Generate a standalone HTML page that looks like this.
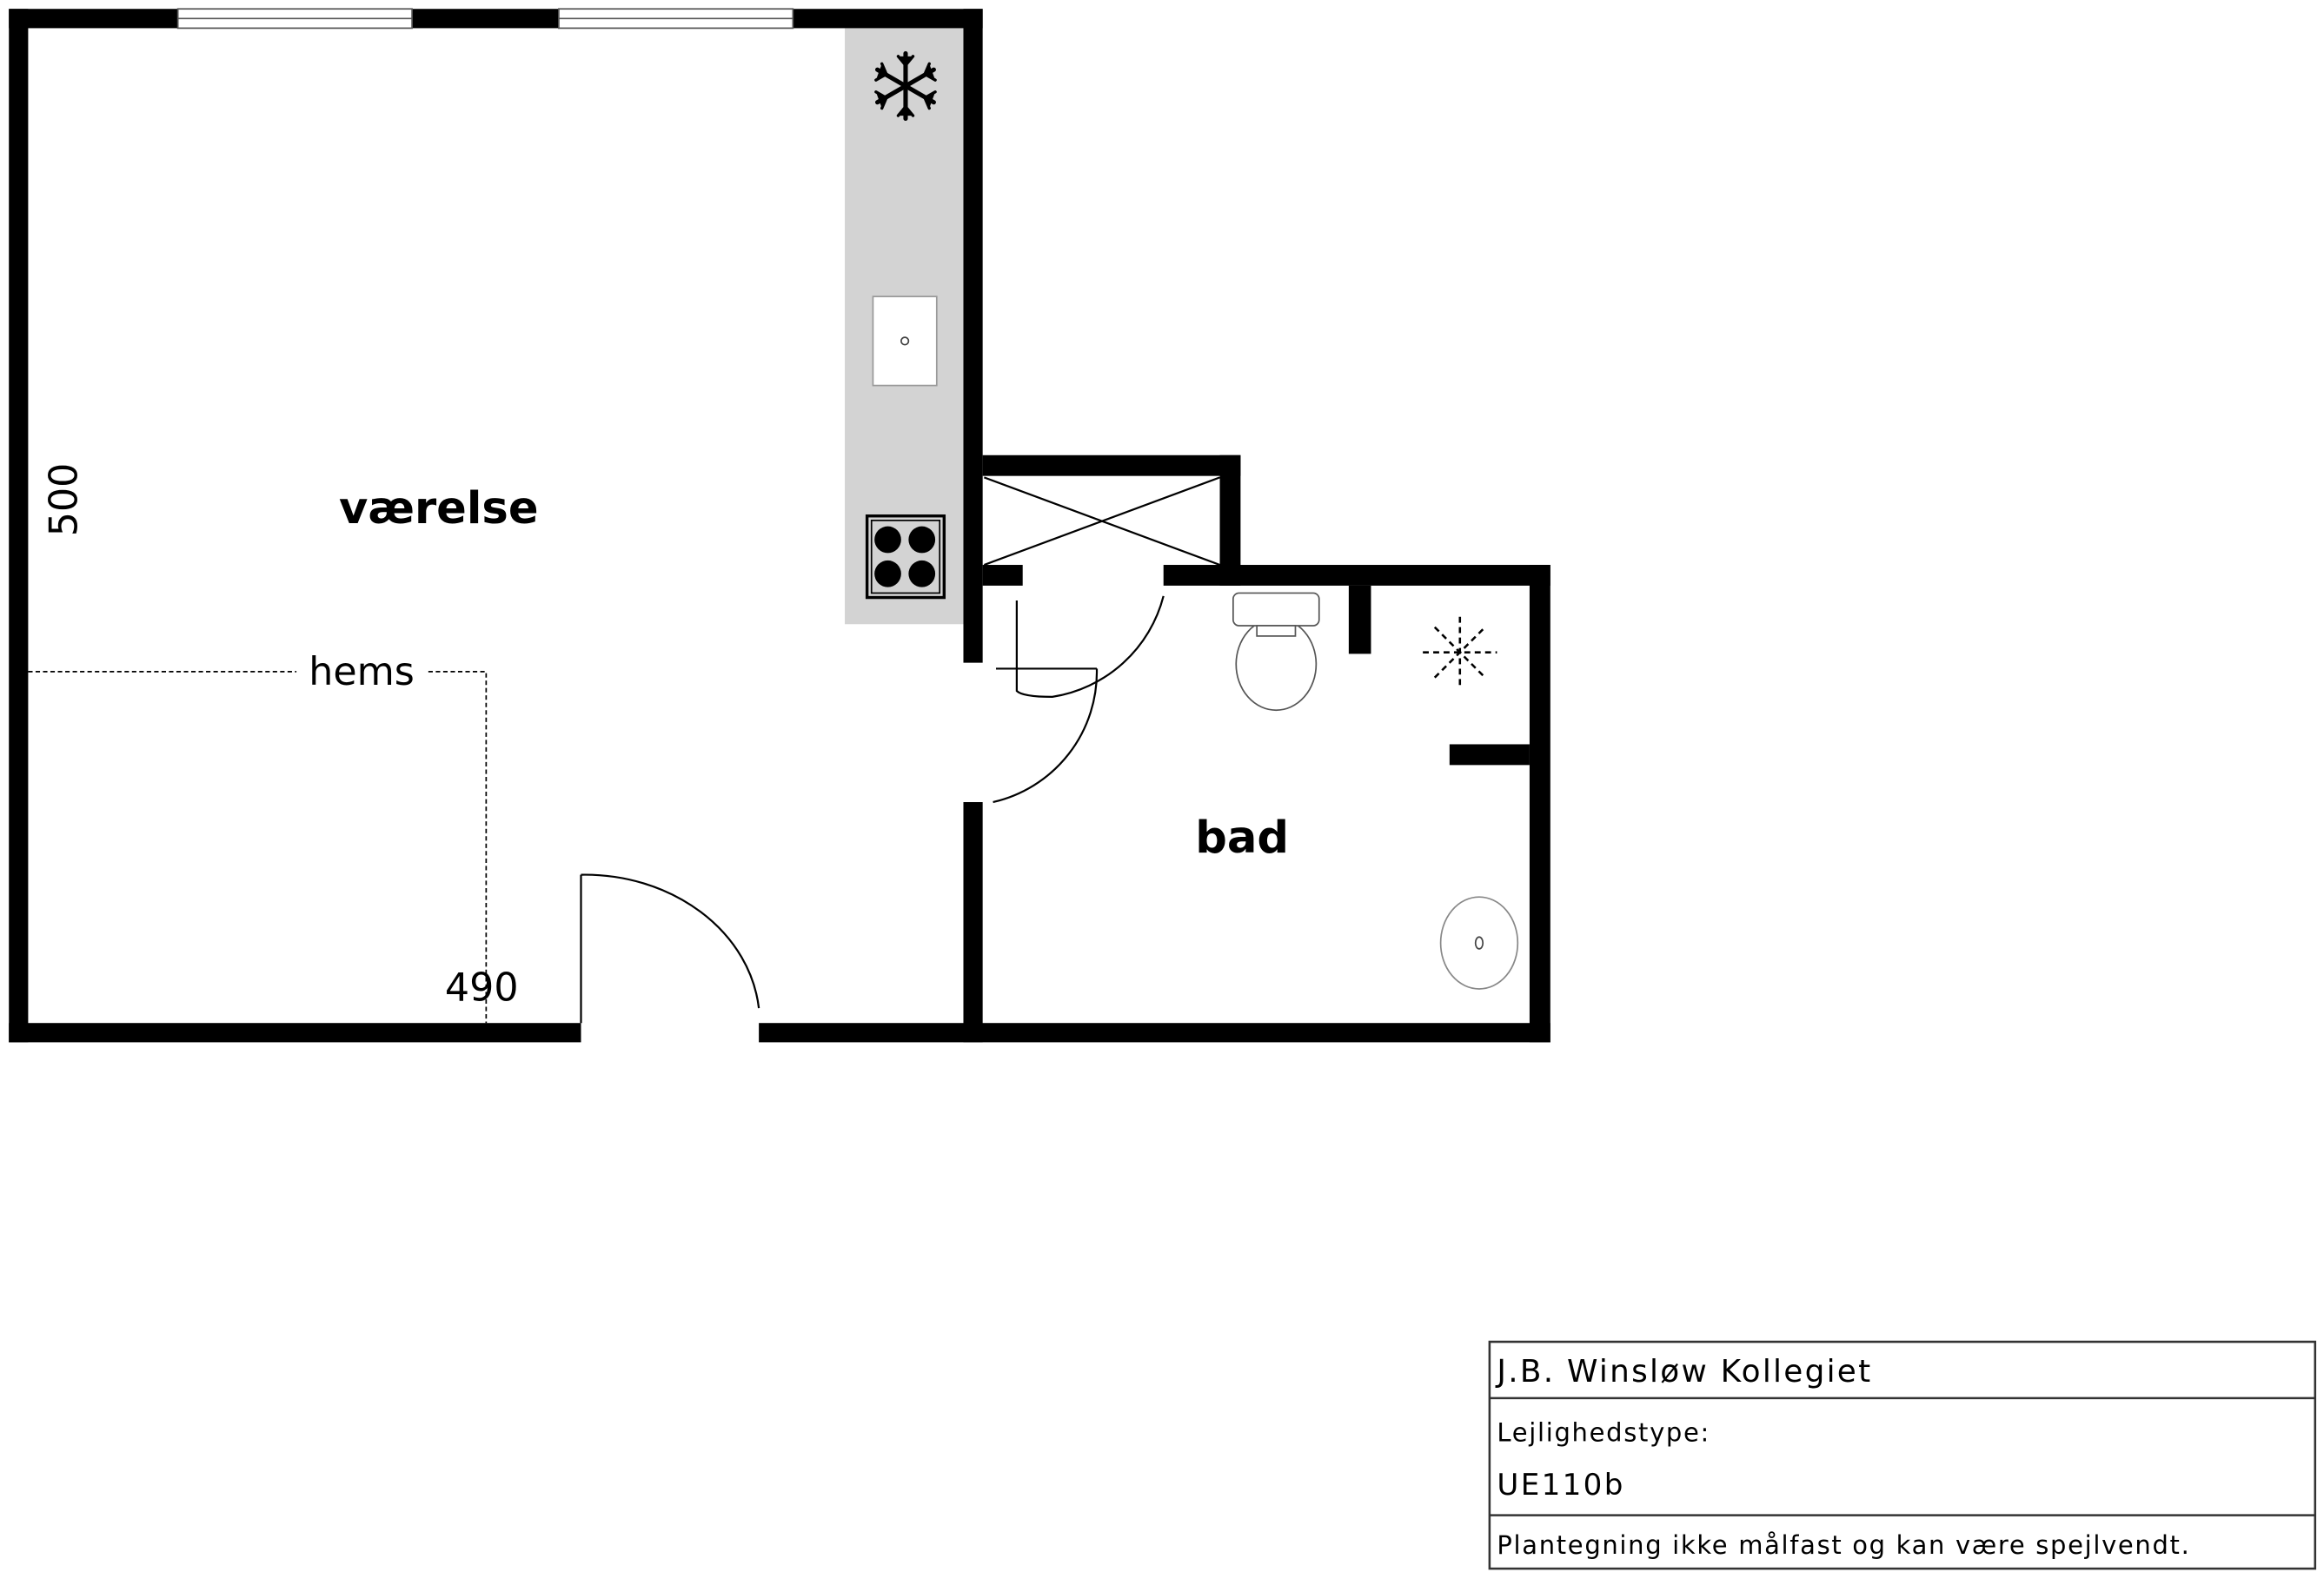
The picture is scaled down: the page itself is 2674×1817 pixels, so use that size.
<!DOCTYPE html>
<html><head><meta charset="utf-8"><style>html,body{margin:0;padding:0;background:#fff}svg{display:block}</style></head>
<body>
<svg width="2674" height="1817" viewBox="0 0 1568 1065" preserveAspectRatio="none" xmlns="http://www.w3.org/2000/svg" font-family="DejaVu Sans, Verdana, sans-serif">
<rect width="1568" height="1065" fill="#fff"/>
<rect x="570" y="19" width="80" height="402" fill="#d3d3d3"/>
<g fill="#000">
<rect x="6" y="6" width="657" height="13"/>
<rect x="6" y="6" width="13" height="697"/>
<rect x="650" y="6" width="13" height="441"/>
<rect x="650" y="541" width="13" height="162"/>
<rect x="6" y="690" width="386" height="13"/>
<rect x="512" y="690" width="534" height="13"/>
<rect x="663" y="307" width="174" height="14"/>
<rect x="823" y="307" width="14" height="88"/>
<rect x="785" y="381" width="261" height="14"/>
<rect x="663" y="381" width="27" height="14"/>
<rect x="1032" y="381" width="14" height="322"/>
<rect x="910" y="395" width="15" height="46"/>
<rect x="978" y="502" width="54" height="14"/>
</g>
<g fill="#fff" stroke="#555" stroke-width="1">
<rect x="120" y="6" width="158" height="13"/>
<rect x="377" y="6" width="158" height="13"/>
<line x1="120" y1="12.5" x2="278" y2="12.5"/>
<line x1="377" y1="12.5" x2="535" y2="12.5"/>
</g>
<g stroke="#000" stroke-width="1.3">
<line x1="664" y1="322" x2="823" y2="381"/>
<line x1="664" y1="381" x2="823" y2="322"/>
</g>
<g fill="none" stroke="#000" stroke-width="1.3">
<line x1="672" y1="451" x2="740" y2="451"/>
<path d="M740 451 A90 90 0 0 1 670 541"/>
<path d="M686 405 L686 466 Q690 470 710 470 A92 92 0 0 0 785 402"/>
<line x1="392" y1="590" x2="392" y2="690"/>
<path d="M392 590 A118 100 0 0 1 512 680"/>
</g>
<g stroke="#000" stroke-width="3" stroke-linecap="round" transform="translate(611,58)">
<line x1="0" y1="-22" x2="0" y2="22"/>
<line x1="-19" y1="-11" x2="19" y2="11"/>
<line x1="-19" y1="11" x2="19" y2="-11"/>
<g stroke-width="2">
<path d="M-5 -20 L0 -14 L5 -20 M-5 20 L0 14 L5 20"/>
<path d="M-20 -4 L-13 -8 L-16 -15 M20 4 L13 8 L16 15"/>
<path d="M-20 4 L-13 8 L-16 15 M20 -4 L13 -8 L16 -15"/>
</g>
</g>
<rect x="589" y="200" width="43" height="60" fill="#fff" stroke="#999" stroke-width="1"/>
<circle cx="610.5" cy="230" r="2.5" fill="none" stroke="#444"/>
<rect x="585" y="348" width="52" height="55" fill="#d3d3d3" stroke="#000" stroke-width="2"/>
<rect x="588" y="351" width="46" height="49" fill="none" stroke="#000" stroke-width="1"/>
<g fill="#000"><circle cx="599" cy="364" r="9"/><circle cx="622" cy="364" r="9"/><circle cx="599" cy="387" r="9"/><circle cx="622" cy="387" r="9"/></g>
<g fill="#fff" stroke="#555" stroke-width="1">
<ellipse cx="861" cy="448" rx="27" ry="31"/>
<rect x="832" y="400" width="58" height="22" rx="4"/>
<rect x="848" y="422" width="26" height="7"/>
</g>
<g stroke="#000" stroke-width="1.5" stroke-dasharray="4,3" transform="translate(985,440)">
<line x1="-25" y1="0" x2="25" y2="0"/>
<line x1="0" y1="-24" x2="0" y2="24"/>
<line x1="-17" y1="-17" x2="17" y2="17"/>
<line x1="-17" y1="17" x2="17" y2="-17"/>
</g>
<ellipse cx="998" cy="636" rx="26" ry="31" fill="none" stroke="#888" stroke-width="1"/>
<ellipse cx="998" cy="636" rx="2.5" ry="4" fill="none" stroke="#444"/>
<g stroke="#000" stroke-width="1" stroke-dasharray="3,2" fill="none">
<line x1="19" y1="453" x2="200" y2="453"/>
<path d="M289 453 L328 453 L328 690"/>
</g>
<text x="244" y="462" font-size="26" text-anchor="middle">hems</text>
<text x="325" y="675" font-size="26" text-anchor="middle">490</text>
<text transform="translate(52,337) rotate(-90)" font-size="26" text-anchor="middle">500</text>
<text x="296" y="353" font-size="30" font-weight="bold" text-anchor="middle">værelse</text>
<text x="838" y="575" font-size="30" font-weight="bold" text-anchor="middle">bad</text>
<g fill="none" stroke="#333" stroke-width="1.5">
<rect x="1005" y="905" width="557" height="153"/>
<line x1="1005" y1="943" x2="1562" y2="943"/>
<line x1="1005" y1="1022" x2="1562" y2="1022"/>
</g>
<text x="1010" y="932" font-size="21" textLength="252">J.B. Winsløw Kollegiet</text>
<text x="1010" y="972" font-size="17" textLength="143">Lejlighedstype:</text>
<text x="1010" y="1008" font-size="20" textLength="85">UE110b</text>
<text x="1010" y="1048" font-size="17" textLength="467">Plantegning ikke målfast og kan være spejlvendt.</text>
</svg>
</body></html>
